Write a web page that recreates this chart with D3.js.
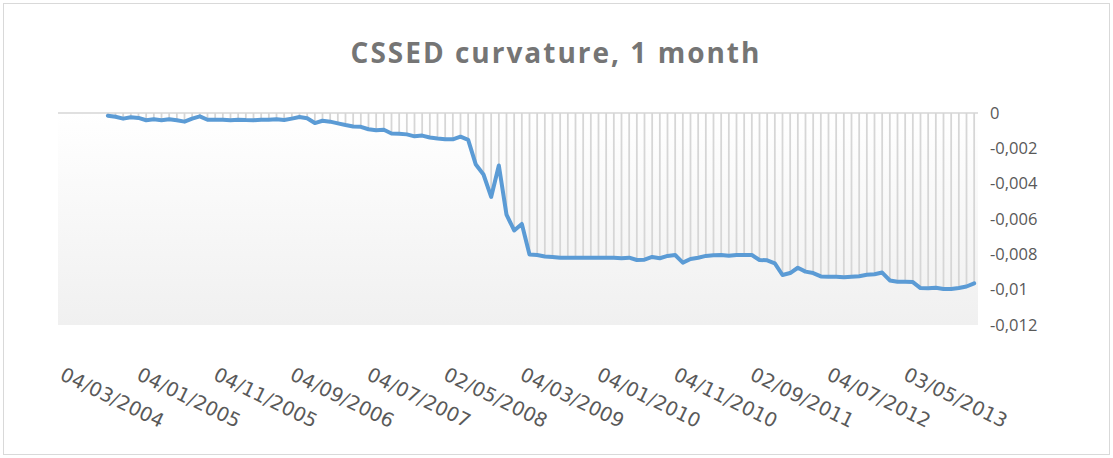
<!DOCTYPE html>
<html>
<head>
<meta charset="utf-8">
<script src="https://cdn.jsdelivr.net/npm/d3@7"></script>
<style>
  html, body { margin: 0; padding: 0; background: #fff; }
  svg { display: block; }
  .title { font-family: 'Open Sans', sans-serif; font-weight: 700; fill: #757575; }
  .ylab { font-family: 'Open Sans', sans-serif; fill: #595959; }
  .xlab { font-family: 'DejaVu Sans', sans-serif; fill: #595959; }
</style>
</head>
<body>
<div id="chart"></div>
<script>
// monthly series, first six months are blank
const values = [
  null, null, null, null, null, null,
  -0.00015, -0.00021, -0.00032, -0.00024, -0.00028, -0.00041, -0.00036, -0.00041, -0.00036, -0.00041,
  -0.00049, -0.00032, -0.00019, -0.00038, -0.00038, -0.00038, -0.00041, -0.00038, -0.00040, -0.00041,
  -0.00038, -0.00038, -0.00036, -0.00040, -0.00032, -0.00023, -0.00030, -0.00057, -0.00044, -0.00049,
  -0.00059, -0.00068, -0.00076, -0.00078, -0.00092, -0.00098, -0.00095, -0.00116, -0.00117, -0.00121,
  -0.00132, -0.00128, -0.00139, -0.00144, -0.00148, -0.00149, -0.00134, -0.00152, -0.00292, -0.00348,
  -0.00475, -0.00297, -0.00575, -0.00665, -0.00628, -0.00801, -0.00804, -0.00812, -0.00815, -0.00819,
  -0.00819, -0.00819, -0.00819, -0.00819, -0.00819, -0.00819, -0.00820, -0.00822, -0.00819, -0.00832,
  -0.00830, -0.00815, -0.00822, -0.00809, -0.00804, -0.00847, -0.00826, -0.00819, -0.00809, -0.00805,
  -0.00804, -0.00808, -0.00804, -0.00804, -0.00804, -0.00832, -0.00834, -0.00851, -0.00917, -0.00906,
  -0.00876, -0.00898, -0.00906, -0.00925, -0.00927, -0.00927, -0.00930, -0.00927, -0.00924, -0.00916,
  -0.00913, -0.00903, -0.00948, -0.00955, -0.00955, -0.00957, -0.00991, -0.00992, -0.00989, -0.00996,
  -0.00996, -0.00991, -0.00982, -0.00964
];
// a label on every 10th month
const tickLabels = [
  '04/03/2004', '04/01/2005', '04/11/2005', '04/09/2006', '04/07/2007', '02/05/2008',
  '04/03/2009', '04/01/2010', '04/11/2010', '02/09/2011', '04/07/2012', '03/05/2013'
];
const yTicks = [0, -0.002, -0.004, -0.006, -0.008, -0.01, -0.012];
const title = 'CSSED curvature, 1 month';

const W = 1113, H = 458;
const plot = { left: 58, right: 978, top: 113, bottom: 325 };

const svg = d3.select('#chart').append('svg')
  .attr('width', W)
  .attr('height', H);

// chart border
svg.append('rect')
  .attr('x', 3.5).attr('y', 3.5)
  .attr('width', W - 7).attr('height', H - 7)
  .attr('fill', '#fff')
  .attr('stroke', '#d9d9d9');

const defs = svg.append('defs');
const grad = defs.append('linearGradient')
  .attr('id', 'plotbg')
  .attr('x1', 0).attr('y1', 0).attr('x2', 0).attr('y2', 1);
grad.append('stop').attr('offset', '0%').attr('stop-color', '#ffffff');
grad.append('stop').attr('offset', '100%').attr('stop-color', '#f0f0f0');

const x = d3.scaleBand()
  .domain(d3.range(values.length))
  .range([plot.left, plot.right]);

const y = d3.scaleLinear()
  .domain([-0.012, 0])
  .range([plot.bottom, plot.top]);

svg.append('rect')
  .attr('x', plot.left).attr('y', plot.top)
  .attr('width', plot.right - plot.left)
  .attr('height', plot.bottom - plot.top)
  .attr('fill', 'url(#plotbg)');

const cx = i => x(i) + x.bandwidth() / 2;
const pts = values.map((v, i) => ({ i, v })).filter(d => d.v !== null);

// drop lines from the zero axis to each point
svg.append('g')
  .selectAll('line')
  .data(pts)
  .enter()
  .append('line')
  .attr('x1', d => cx(d.i))
  .attr('x2', d => cx(d.i))
  .attr('y1', y(0))
  .attr('y2', d => y(d.v))
  .attr('stroke', '#d6d6d6')
  .attr('stroke-width', 1.8);

// category axis line sits at zero
svg.append('line')
  .attr('x1', plot.left).attr('x2', plot.right)
  .attr('y1', y(0)).attr('y2', y(0))
  .attr('stroke', '#d6d6d6')
  .attr('stroke-width', 1.5);

const line = d3.line()
  .x(d => cx(d.i))
  .y(d => y(d.v));

svg.append('path')
  .datum(pts)
  .attr('d', line)
  .attr('fill', 'none')
  .attr('stroke', '#5b9bd5')
  .attr('stroke-width', 4)
  .attr('stroke-linejoin', 'round')
  .attr('stroke-linecap', 'round');

// value axis on the right, no line and no ticks
const yAxis = d3.axisRight(y)
  .tickValues(yTicks)
  .tickSize(0)
  .tickPadding(0)
  .tickFormat(d => d === 0 ? '0' : String(d).replace('.', ','));

const gy = svg.append('g')
  .attr('transform', `translate(${plot.right + 12},0)`)
  .call(yAxis);
gy.select('.domain').remove();
gy.selectAll('text')
  .attr('class', 'ylab')
  .attr('font-size', 16.5)
  .attr('fill', '#595959');

// rotated month labels at the bottom
svg.append('g')
  .selectAll('text')
  .data(tickLabels)
  .enter()
  .append('text')
  .attr('class', 'xlab')
  .attr('font-size', 19.5)
  .attr('transform', (d, k) => `translate(${cx(k * 10) - 3},379) rotate(26)`)
  .text(d => d);

svg.append('text')
  .attr('class', 'title')
  .attr('x', 556)
  .attr('y', 63)
  .attr('text-anchor', 'middle')
  .attr('font-size', 28)
  .attr('letter-spacing', 2)
  .text(title);
</script>
</body>
</html>
